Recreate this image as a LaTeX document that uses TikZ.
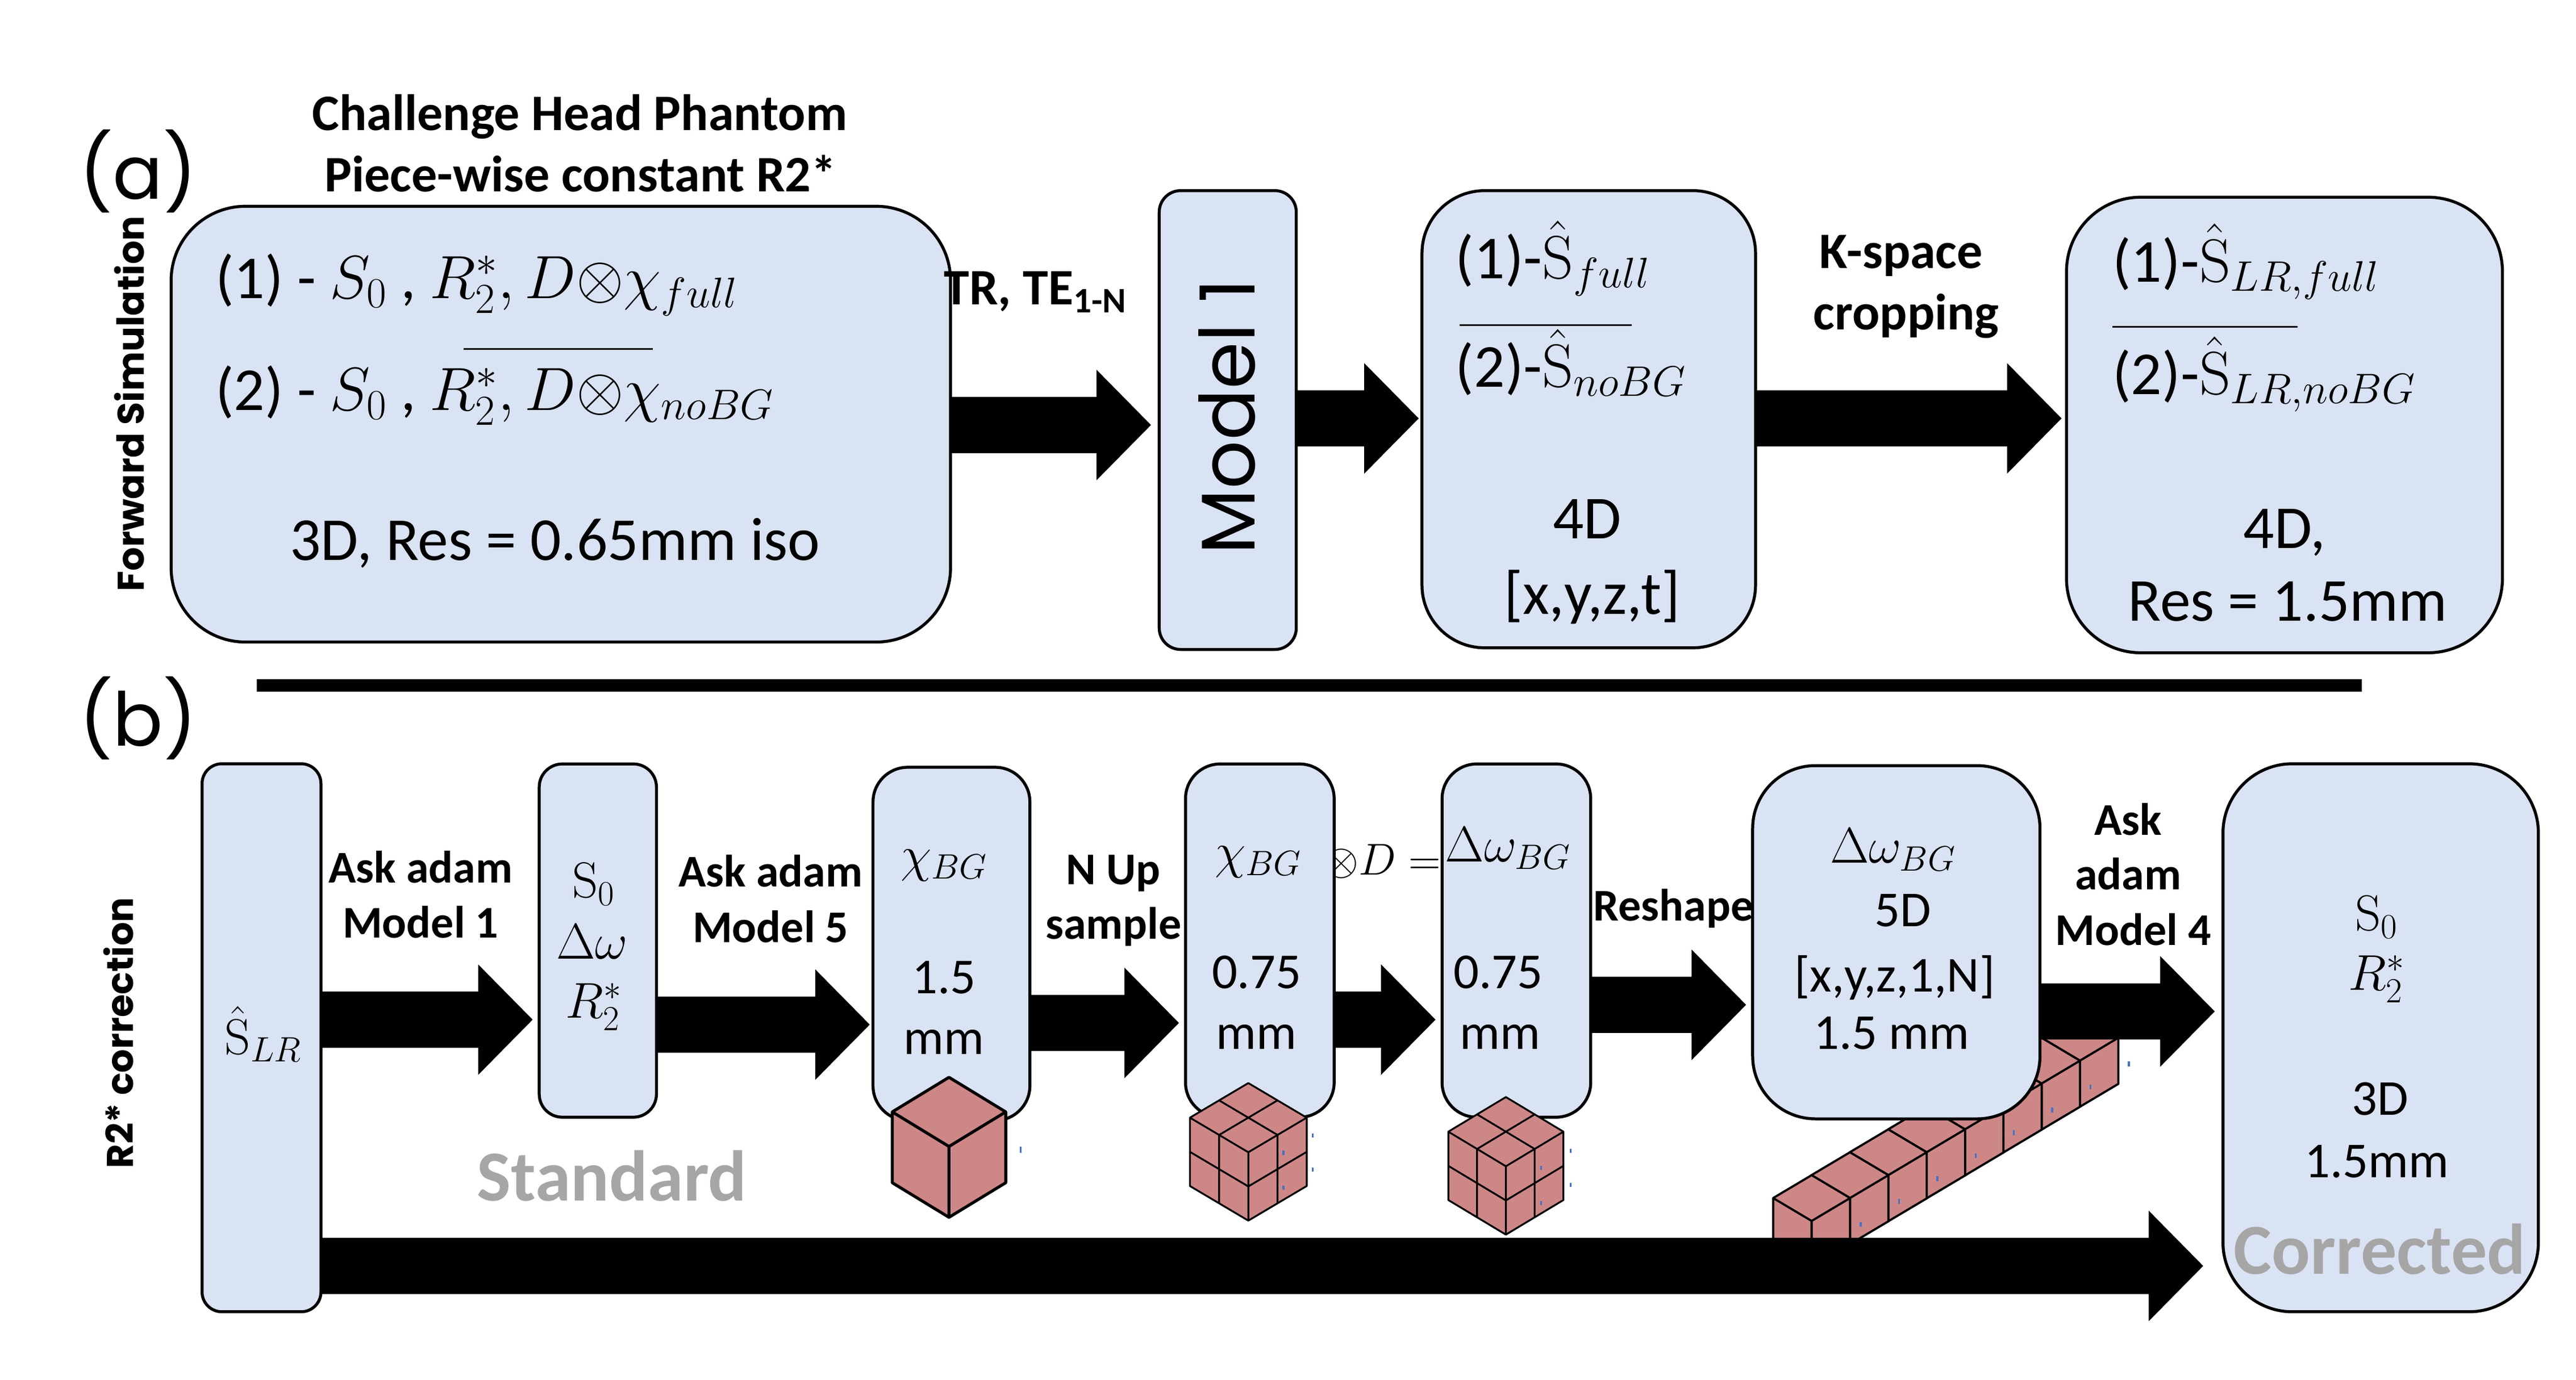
\RequirePackage{fix-cm}
\documentclass[tikz,border=0pt]{standalone}
\usepackage[no-math]{fontspec}
\setmainfont{Carlito}
\newfontfamily\geofont{Poppins}
\usetikzlibrary{calc}
\definecolor{boxfill}{HTML}{DAE3F3}
\definecolor{cubefill}{HTML}{CD8787}
\definecolor{tickblue}{HTML}{4472C4}
\definecolor{graytxt}{HTML}{A6A6A6}
\tikzset{
  boxsty/.style={draw=black, line width=1.8pt, fill=boxfill, inner sep=0pt, outer sep=0pt},
  txtbase/.style={inner sep=0pt, outer sep=0pt, anchor=base},
  bigtxt/.style={txtbase, font=\fontsize{37}{44}\selectfont},
  midtxt/.style={txtbase, font=\fontsize{30.5}{36}\selectfont},
  labtxt/.style={txtbase, font=\bfseries\fontsize{31}{37}\selectfont},
  slabtxt/.style={txtbase, font=\bfseries\fontsize{27.5}{33}\selectfont},
  graylab/.style={txtbase, font=\bfseries\fontsize{43.5}{52}\selectfont, text=graytxt},
  sidetxt/.style={txtbase, rotate=90, font=\geofont\bfseries\fontsize{22.5}{27}\selectfont},
  partlab/.style={inner sep=0pt, outer sep=0pt, font=\geofont\fontsize{45}{54}\selectfont},
  sepline/.style={line width=1pt},
  ticksty/.style={tickblue, line width=1.2pt},
}
% big block arrow between two points (same height), tip shifted back by a gap
\newcommand{\fatarrow}[3]{%
  \fill[black] let \p1=(#1), \p2=(#2) in
   (\x1,\y1+17pt) -- (\x2-#3-33pt,\y1+17pt) -- (\x2-#3-33pt,\y1+33.5pt) --
   (\x2-#3,\y1) -- (\x2-#3-33pt,\y1-33.5pt) -- (\x2-#3-33pt,\y1-17pt) --
   (\x1,\y1-17pt) -- cycle;}
% isometric cube: top vertex (#1,#2), half width #3, half height of top #4, edge #5, line width #6
\newcommand{\isocube}[6]{%
  \filldraw[fill=cubefill, draw=black, line width=#6, line join=round]
    (#1,#2) -- ++(#3,#4) -- ++(0,#5) -- ++(-#3,#4) -- ++(-#3,-#4) -- ++(0,-#5) -- cycle;
  \draw[line width=#6, line join=round] (#1-#3,#2+#4) -- (#1,#2+2*#4) -- (#1+#3,#2+#4)
    (#1,#2+2*#4) -- ++(0,#5);}
\newcommand{\isocubesplit}[6]{%
  \isocube{#1}{#2}{#3}{#4}{#5}{#6}%
  \draw[line width=#6]
    (#1+#3/2,#2+#4/2) -- (#1-#3/2,#2+3*#4/2)
    (#1-#3/2,#2+#4/2) -- (#1+#3/2,#2+3*#4/2)
    (#1-#3/2,#2+3*#4/2) -- ++(0,#5)
    (#1+#3/2,#2+3*#4/2) -- ++(0,#5)
    (#1-#3,#2+#4+#5/2) -- (#1,#2+2*#4+#5/2) -- (#1+#3,#2+#4+#5/2);}
\begin{document}
\begin{tikzpicture}[x=0.996pt,y=-0.998pt]
\fill[white] (0,0) rectangle (1566.27,837.68);
\useasboundingbox (0,0) rectangle (1566.27,837.68);

% ---------- row of cubes (behind the 5D box and arrows)
\foreach \k in {7,6,...,0} {
  \isocube{1101.5+23.3*\k}{713.4-13.9*\k}{23.4}{13.9}{28}{1.3pt}
}

% ---------- text partly covered by boxes
\node[txtbase, anchor=base west, font=\fontsize{27}{32}\selectfont] (otimesD) at (805,531) {$\otimes D =$};

% ---------- part (a) boxes
\node[boxsty, rounded corners=45pt, minimum width=472pt, minimum height=264pt] (b1) at (341,257.5) {};
\node[boxsty, rounded corners=13pt, minimum width=83pt, minimum height=278pt] (m1) at (746.5,255) {};
\node[boxsty, rounded corners=38pt, minimum width=202pt, minimum height=277pt] (b3) at (966,254.5) {};
\node[boxsty, rounded corners=45pt, minimum width=264pt, minimum height=276pt] (b4) at (1389,258) {};

% ---------- part (b) boxes
\node[boxsty, rounded corners=12pt, minimum width=72pt, minimum height=332pt] (slr) at (159,630) {};
\node[boxsty, rounded corners=14pt, minimum width=71pt, minimum height=214pt] (s0) at (363.5,571) {};
\node[boxsty, rounded corners=21pt, minimum width=95pt, minimum height=214pt] (c1) at (578.5,573) {};
\node[boxsty, rounded corners=21pt, minimum width=90pt, minimum height=214pt] (c2) at (766,571) {};
\node[boxsty, rounded corners=21pt, minimum width=90pt, minimum height=214pt] (dw) at (922,571) {};
\node[boxsty, rounded corners=38pt, minimum width=174pt, minimum height=214pt] (d5) at (1153,572) {};
\node[boxsty, rounded corners=42pt, minimum width=191pt, minimum height=332pt] (fin) at (1447.5,630) {};

% ---------- arrows
\fatarrow{b1.east |- 0,258}{m1.west |- 0,258}{5pt}
\fatarrow{m1.east |- 0,254}{b3.west |- 0,254}{2pt}
\fatarrow{b3.east |- 0,254}{b4.west |- 0,254}{3pt}
\fatarrow{slr.east |- 0,619}{s0.west |- 0,619}{4pt}
\fatarrow{s0.east |- 0,622}{c1.west |- 0,622}{2pt}
\fatarrow{c1.east |- 0,621}{c2.west |- 0,621}{4pt}
\fatarrow{c2.east |- 0,619}{dw.west |- 0,619}{4pt}
\fatarrow{dw.east |- 0,610}{d5.west |- 0,610}{4pt}
\fatarrow{d5.east |- 0,614}{fin.west |- 0,614}{5pt}
\fatarrow{slr.east |- 0,768.5}{fin.west |- 0,768.5}{12pt}

% ---------- separator between (a) and (b)
\coordinate (sepL) at (156,416);
\coordinate (sepR) at (1436,416);
\draw[line width=7.5pt] (sepL) -- (sepR);

% ---------- part labels
\node[partlab] (pa) at (84,104) {(a)};
\node[partlab] (pb) at (84,436) {(b)};
\node[sidetxt] (fwd) at (87.5,245) {Forward Simulation};
\node[sidetxt] (corr) at (81,627) {R2* correction};

% ---------- part (a) texts
\node[labtxt] (t1) at (352.5,79) {Challenge Head Phantom};
\node[labtxt] (t2) at (353,116.5) {Piece-wise constant R2*};
\node[bigtxt, anchor=base west] (l1) at (131,181) {(1) - $S_0$ , $R_2^*, D{\otimes}\chi_{full}$};
\coordinate (s1a) at (282,212); \coordinate (s1b) at (397,212);
\draw[sepline] (s1a) -- (s1b);
\node[bigtxt, anchor=base west] (l2) at (131,249) {(2) - $S_0$ , $R_2^*, D{\otimes}\chi_{noBG}$};
\node[bigtxt] (l3) at (337.5,340) {3D, Res = 0.65mm iso};
\node[labtxt, anchor=base west] (tr) at (574,185) {TR, TE\textsubscript{1-N}};
\node[txtbase, rotate=90, font=\geofont\fontsize{46}{55}\selectfont] (mt) at (763,253) {Model 1};
\node[bigtxt, anchor=base west] (f1) at (885,169) {(1)-$\hat{\mathrm{S}}_{full}$};
\coordinate (s3a) at (887.5,197.5); \coordinate (s3b) at (992,197.5);
\draw[sepline] (s3a) -- (s3b);
\node[bigtxt, anchor=base west] (f2) at (885,235) {(2)-$\hat{\mathrm{S}}_{noBG}$};
\node[bigtxt] (f3) at (965,327) {4D};
\node[bigtxt] (f4) at (968,373) {[x,y,z,t]};
\node[labtxt] (k1) at (1156,163) {K-space};
\node[labtxt] (k2) at (1159,200) {cropping};
\node[bigtxt, anchor=base west] (g1) at (1284.5,171) {(1)-$\hat{\mathrm{S}}_{LR,full}$};
\coordinate (s4a) at (1284.5,198.4); \coordinate (s4b) at (1397,198.4);
\draw[sepline] (s4a) -- (s4b);
\node[bigtxt, anchor=base west] (g2) at (1284.5,239.5) {(2)-$\hat{\mathrm{S}}_{LR,noBG}$};
\node[bigtxt] (g3) at (1389,333) {4D,};
\node[bigtxt] (g4) at (1391,377) {Res = 1.5mm};

% ---------- part (b) texts
\node[midtxt] (h1) at (160,640) {$\hat{\mathrm{S}}_{LR}$};
\node[slabtxt] (a1) at (255.7,536) {Ask adam};
\node[slabtxt] (a2) at (255.7,569.5) {Model 1};
\node[midtxt] (p1) at (361,545) {$\mathrm{S}_0$};
\node[midtxt] (p2) at (360,582) {$\Delta\omega$};
\node[midtxt] (p3) at (361,618) {$R_2^*$};
\node[slabtxt] (a3) at (468.5,538.5) {Ask adam};
\node[slabtxt] (a4) at (468.5,572.2) {Model 5};
\node[midtxt] (q1) at (574,529) {$\chi_{BG}$};
\node[midtxt] (q2) at (574,603) {1.5};
\node[midtxt] (q3) at (574,640) {mm};
\node[graylab] (std) at (372,729) {Standard};
\node[slabtxt] (n1) at (677,537) {N Up};
\node[slabtxt] (n2) at (677,570) {sample};
\node[midtxt] (r1) at (765,527) {$\chi_{BG}$};
\node[midtxt] (r2) at (764,600) {0.75};
\node[midtxt] (r3) at (764,637) {mm};
\node[midtxt] (w1) at (917,523) {$\Delta\omega_{BG}$};
\node[midtxt] (w2) at (911,600) {0.75};
\node[midtxt] (w3) at (912,637) {mm};
\node[slabtxt] (rs) at (1017.5,559) {Reshape};
\node[midtxt] (v1) at (1151,524) {$\Delta\omega_{BG}$};
\node[midtxt] (v2) at (1157,562.5) {5D};
\node[midtxt] (v3) at (1152,602) {[x,y,z,1,N]};
\node[midtxt] (v4) at (1150,637) {1.5 mm};
\node[slabtxt] (a5) at (1294,507) {Ask};
\node[slabtxt] (a6) at (1294,540) {adam};
\node[slabtxt] (a7) at (1297,574) {Model 4};
\node[midtxt] (z1) at (1445,565) {$\mathrm{S}_0$};
\node[midtxt] (z2) at (1445,601) {$R_2^*$};
\node[midtxt] (z3) at (1447,677) {3D};
\node[midtxt] (z4) at (1445,715) {1.5mm};
\node[graylab] (cor) at (1447,773.5) {Corrected};

% ---------- cubes over the boxes
\isocube{577}{654}{34.5}{21}{43}{1.8pt}
\isocubesplit{759}{657.5}{35.5}{21}{41.5}{1.1pt}
\isocubesplit{915.6}{666}{35}{21}{41.5}{1.1pt}

% ---------- small blue marks beside the cubes
\draw[ticksty] (620.6,696) -- (620.6,700);
\foreach \yy in {688,708.9} { \draw[ticksty] (798.2,\yy) -- ++(0,2.5); }
\foreach \yy in {698.6,719.8} { \draw[ticksty] (780.4,\yy) -- ++(0,2.5); }
\foreach \yy in {697.4,718} { \draw[ticksty] (955,\yy) -- ++(0,2.5); }
\foreach \yy in {707.7,729} { \draw[ticksty] (937,\yy) -- ++(0,2.5); }
\foreach \k in {1,...,8} {
  \draw[ticksty] (1108+23.3*\k,755.7-13.9*\k) -- ++(0,3);
}
\end{tikzpicture}
\end{document}
